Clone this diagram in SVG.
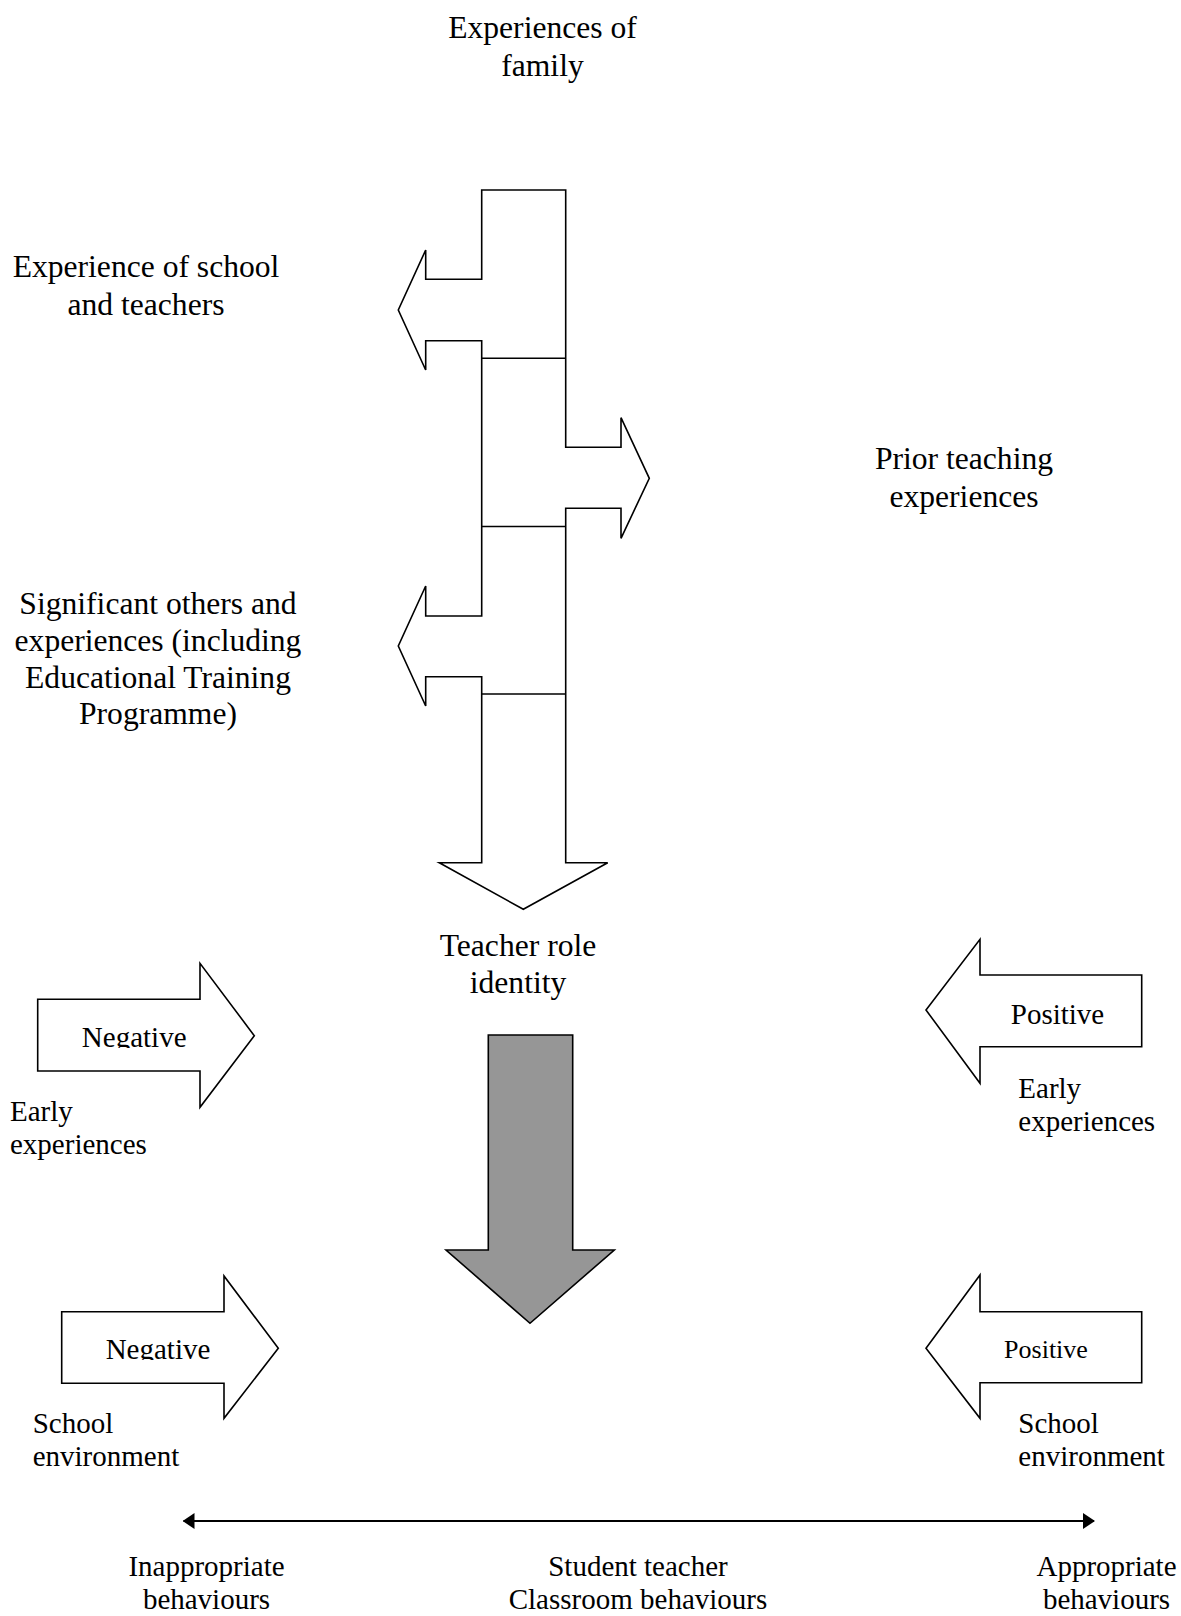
<svg xmlns="http://www.w3.org/2000/svg" width="1181" height="1616" viewBox="0 0 1181 1616">
  <style>
    .lbl { font-family: "Liberation Serif", "Times New Roman", serif; fill: #000; }
    .big { font-size: 31.6px; }
    .mid { font-size: 29px; }
    .sm { font-size: 26px; }
    .shape { fill: #fff; stroke: #000; stroke-width: 1.6; stroke-linejoin: miter; }
    .div { fill: none; stroke: #000; stroke-width: 1.6; }
    .grey { fill: #969696; stroke: #000; stroke-width: 1.6; }
    .axis { fill: none; stroke: #000; stroke-width: 2.2; }
  </style>
  <defs>
    <marker id="head" viewBox="0 0 12 16" refX="11" refY="8" markerWidth="12" markerHeight="16" markerUnits="userSpaceOnUse" orient="auto-start-reverse">
      <path d="M0,0 L12,8 L0,16 Z" fill="#000"/>
    </marker>
    <clipPath id="clipNeg1"><rect x="40" y="1000" width="158" height="48"/></clipPath>
    <clipPath id="clipNeg2"><rect x="64" y="1313" width="158" height="47"/></clipPath>
  </defs>
  <rect width="1181" height="1616" fill="#fff"/>

  <!-- Top label -->
  <g id="family">
    <text class="lbl big" x="542.5" y="37.5" text-anchor="middle">Experiences of</text>
    <text class="lbl big" x="542.5" y="75.5" text-anchor="middle">family</text>
  </g>

  <g id="school-teachers">
    <text class="lbl big" x="146" y="277" text-anchor="middle">Experience of school</text>
    <text class="lbl big" x="146" y="314.5" text-anchor="middle">and teachers</text>
  </g>

  <g id="prior-teaching">
    <text class="lbl big" x="964" y="468.5" text-anchor="middle">Prior teaching</text>
    <text class="lbl big" x="964" y="506.5" text-anchor="middle">experiences</text>
  </g>

  <g id="significant-others">
    <text class="lbl big" x="158" y="614.3" text-anchor="middle">Significant others and</text>
    <text class="lbl big" x="158" y="651" text-anchor="middle">experiences (including</text>
    <text class="lbl big" x="158" y="687.7" text-anchor="middle">Educational Training</text>
    <text class="lbl big" x="158" y="724.4" text-anchor="middle">Programme)</text>
  </g>

  <!-- Stacked influence arrows feeding into the role identity -->
  <g id="influence-stack">
    <path class="shape" d="M481.7,190 H565.7 V447.3 H621 V417.7 L649.3,478.3 L621,538.3 V508.3 H565.7 V862.7 H607.7 L523.3,909.3 L439.3,862.7 H481.7 V676.7 H425.7 V706 L398.3,646 L425.7,586 V616 H481.7 V340.7 H425.7 V370 L398.3,310 L425.7,250 V279.3 H481.7 Z"/>
    <path class="div" d="M481.7,358.3 H565.7 M481.7,526.5 H565.7 M481.7,694 H565.7"/>
  </g>

  <g id="role-identity">
    <text class="lbl big" x="518" y="956" text-anchor="middle">Teacher role</text>
    <text class="lbl big" x="518" y="993" text-anchor="middle">identity</text>
  </g>

  <g id="negative-early">
    <path class="shape" d="M37.7,999.3 H200 V963.3 L254.3,1035.7 L200,1107.3 V1071 H37.7 Z"/>
    <text class="lbl mid" x="134.2" y="1047" text-anchor="middle" clip-path="url(#clipNeg1)">Negative</text>
    <text class="lbl mid" x="10" y="1120.5">Early</text>
    <text class="lbl mid" x="10" y="1154">experiences</text>
  </g>

  <g id="positive-early">
    <path class="shape" d="M1141.7,975 H980 V939.3 L926,1010 L980,1083.3 V1046.7 H1141.7 Z"/>
    <text class="lbl mid" x="1057.5" y="1023.5" text-anchor="middle">Positive</text>
    <text class="lbl mid" x="1018.3" y="1097.5">Early</text>
    <text class="lbl mid" x="1018.3" y="1130.5">experiences</text>
  </g>

  <g id="classroom-behaviour">
    <path class="grey" d="M488.3,1035 H572.7 V1250 H614.3 L530,1323.3 L446,1250 H488.3 Z"/>
  </g>

  <g id="negative-school">
    <path class="shape" d="M61.7,1311.7 H224 V1276 L278.3,1348.3 L224,1418.3 V1383.3 H61.7 Z"/>
    <text class="lbl mid" x="158" y="1359" text-anchor="middle" clip-path="url(#clipNeg2)">Negative</text>
    <text class="lbl mid" x="32.7" y="1432.5">School</text>
    <text class="lbl mid" x="32.7" y="1466">environment</text>
  </g>

  <g id="positive-school">
    <path class="shape" d="M1141.7,1311.7 H980 V1275 L926,1348.3 L980,1418.3 V1382.7 H1141.7 Z"/>
    <text class="lbl sm" x="1046" y="1358" text-anchor="middle">Positive</text>
    <text class="lbl mid" x="1018.3" y="1432.5">School</text>
    <text class="lbl mid" x="1018.3" y="1466">environment</text>
  </g>

  <!-- Behaviour continuum -->
  <g id="connectors">
    <line class="axis" x1="183.5" y1="1521" x2="1094" y2="1521" marker-start="url(#head)" marker-end="url(#head)"/>
  </g>

  <g id="inappropriate">
    <text class="lbl mid" x="206.5" y="1576" text-anchor="middle">Inappropriate</text>
    <text class="lbl mid" x="206.5" y="1609" text-anchor="middle">behaviours</text>
  </g>
  <g id="student-teacher">
    <text class="lbl mid" x="638" y="1576" text-anchor="middle">Student teacher</text>
    <text class="lbl mid" x="638" y="1609" text-anchor="middle">Classroom behaviours</text>
  </g>
  <g id="appropriate">
    <text class="lbl mid" x="1106.5" y="1576" text-anchor="middle">Appropriate</text>
    <text class="lbl mid" x="1106.5" y="1609" text-anchor="middle">behaviours</text>
  </g>
</svg>
